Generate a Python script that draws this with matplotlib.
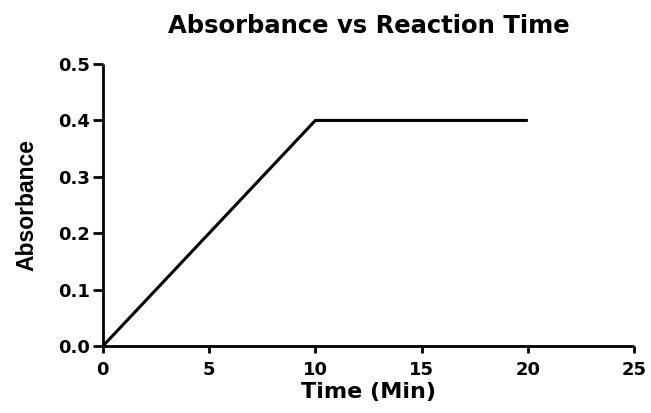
import matplotlib

matplotlib.use("Agg")
import matplotlib.pyplot as plt  # noqa: E402

time_min = [0, 10, 20]
absorbance = [0.0, 0.4, 0.4]
x_ticks = [0, 5, 10, 15, 20, 25]
y_ticks = [0.0, 0.1, 0.2, 0.3, 0.4, 0.5]

WIDE = ["DejaVu Sans"]
NARROW = ["Liberation Sans", "DejaVu Sans"]

fig = plt.figure(figsize=(6.51, 4.13), dpi=100)
ax = fig.add_axes([0.158, 0.162, 0.816, 0.683])

ax.plot(time_min, absorbance, color="black", lw=2.2, solid_capstyle="butt")

ax.set_xlim(0, 25)
ax.set_ylim(0, 0.5)
ax.set_xticks(x_ticks)
ax.set_yticks(y_ticks)
ax.set_xticklabels([str(t) for t in x_ticks], family=WIDE, weight="bold", fontsize=13)
ax.set_yticklabels([f"{t:.1f}" for t in y_ticks], family=WIDE, weight="bold", fontsize=13)

for side in ("top", "right"):
    ax.spines[side].set_visible(False)
for side in ("left", "bottom"):
    ax.spines[side].set_linewidth(2.0)
    ax.spines[side].set_capstyle("butt")

ax.tick_params(axis="x", direction="out", length=5, width=2, pad=6)
ax.tick_params(axis="y", direction="out", length=7.5, width=2, pad=2)

ax.set_xlabel("Time (Min)", family=WIDE, fontsize=16, fontweight="bold", labelpad=2)
ax.set_ylabel("Absorbance", family=NARROW, fontsize=16.5, fontweight="bold", labelpad=14)
ax.set_title("Absorbance vs Reaction Time", family=WIDE, fontsize=17.5,
             fontweight="bold", pad=22)

fig.savefig("out.png", dpi=100)
plt.close(fig)
